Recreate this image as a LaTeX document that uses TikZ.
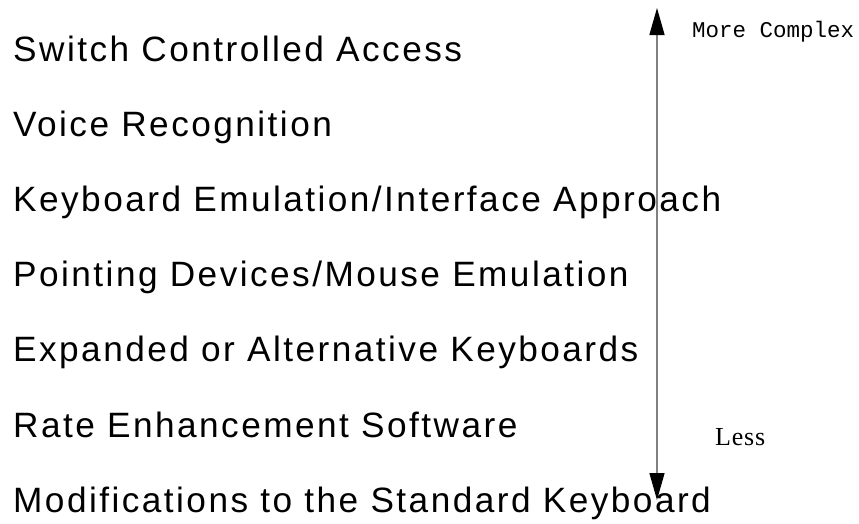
\documentclass[tikz,border=0pt]{standalone}
\usepackage{fontspec}
\setmainfont{Liberation Sans}
\newfontfamily\itemfont[LetterSpace=7]{Liberation Sans}
\newfontfamily\labelmono{Liberation Mono}
\newfontfamily\labelserif[LetterSpace=3]{Liberation Serif}
\usetikzlibrary{positioning,arrows.meta}

\begin{document}
\begin{tikzpicture}[node distance=75.2pt, every node/.style={inner sep=0pt},
  method/.style={anchor=base west, font=\itemfont\fontsize{35.2}{42}\selectfont},
  scalearrow/.style={draw=gray, line width=1.4pt,
    {Triangle[length=27pt,width=15pt,color=black]}-{Triangle[length=27pt,width=15pt,color=black]}}]
  \useasboundingbox (0,0) rectangle (859pt,-523pt);
  \node[method] (switch) at (13pt,-61pt) {Switch Controlled Access};
  \node[below=of switch.base west, method] (voice) {Voice Recognition};
  \node[below=of voice.base west, method] (kbemu) {Keyboard Emulation/Interface Approach};
  \node[below=of kbemu.base west, method] (point) {Pointing Devices/Mouse Emulation};
  \node[below=of point.base west, method] (altkb) {Expanded or Alternative Keyboards};
  \node[below=of altkb.base west, method] (rate) {Rate Enhancement Software};
  \node[below=of rate.base west, method] (modkb) {Modifications to the Standard Keyboard};
  % complexity scale
  \coordinate (top) at (657pt,-8pt);
  \coordinate (bot) at (657pt,-500pt);
  \draw[scalearrow] (bot) -- (top);
  \node[anchor=base west, font=\labelmono\fontsize{22.5}{26}\selectfont] (more) at (692pt,-37pt) {More Complex};
  \node[anchor=base west, font=\labelserif\fontsize{26}{30}\selectfont] (less) at (715pt,-445pt) {Less};
\end{tikzpicture}
\end{document}
